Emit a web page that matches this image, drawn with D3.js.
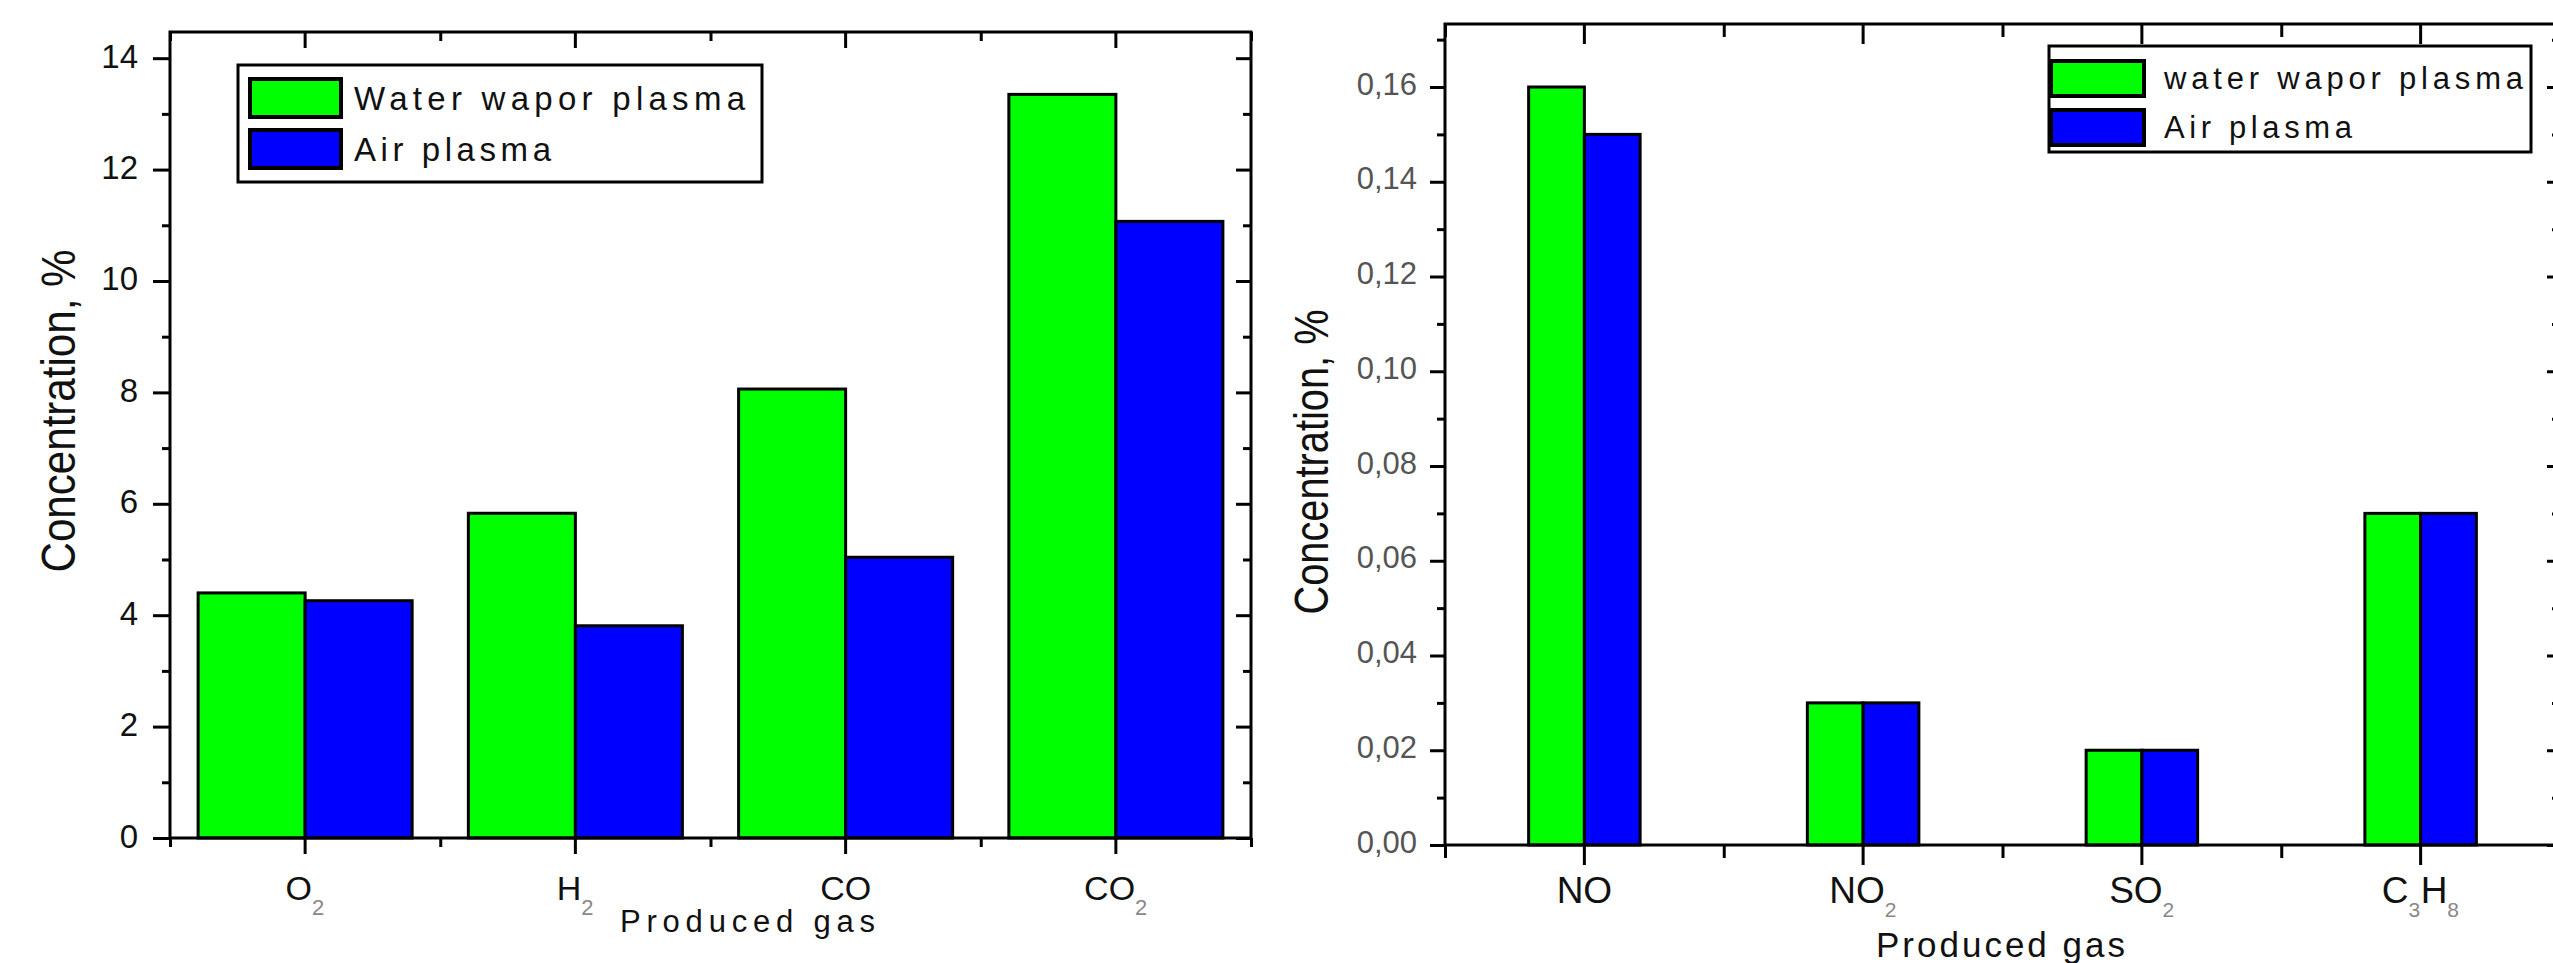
<!DOCTYPE html>
<html>
<head>
<meta charset="utf-8">
<script src="https://cdn.jsdelivr.net/npm/d3@7"></script>
<style>
  body { margin: 0; background: #fff; }
  svg { display: block; font-family: "Liberation Sans", Arial, sans-serif; }
</style>
</head>
<body>
<svg width="2553" height="963"></svg>
<script>
// data
const gasesLeft = ['O2', 'H2', 'CO', 'CO2'];
const waterLeft = [4.4, 5.83, 8.06, 13.35];
const airLeft = [4.26, 3.81, 5.04, 11.07];
const ticksLeft = [0, 2, 4, 6, 8, 10, 12, 14];
const minorLeft = [1, 3, 5, 7, 9, 11, 13];

const gasesRight = ['NO', 'NO2', 'SO2', 'C3H8'];
const waterRight = [0.16, 0.03, 0.02, 0.07];
const airRight = [0.15, 0.03, 0.02, 0.07];
const ticksRight = [0, 0.02, 0.04, 0.06, 0.08, 0.10, 0.12, 0.14, 0.16];
const minorRight = [0.01, 0.03, 0.05, 0.07, 0.09, 0.11, 0.13, 0.15, 0.17];

const seriesKeys = ['water', 'air'];
const legendLeft = ['Water wapor plasma', 'Air plasma'];
const legendRight = ['water wapor plasma', 'Air plasma'];
const titleX = 'Produced gas';
const titleY = 'Concentration, %';

const svg = d3.select('svg');

const color = d3.scaleOrdinal()
  .domain(seriesKeys)
  .range(['#00ff00', '#0000ff']);

// decimal comma, like the original
const euro = d3.formatLocale({ decimal: ',', thousands: '.', grouping: [3], currency: ['', ''] });

// splits "C3H8" into [['C','3'],['H','8']]
const chemParts = s => Array.from(s.matchAll(/([A-Z][a-z]?)(\d*)/g)).map(m => [m[1], m[2]]);

const render = (selection, o) => {
  const g = selection.append('g');

  const x = d3.scaleBand().domain(o.gases).range([o.left, o.right]);
  const xEdge = d3.scaleLinear().domain([0, o.gases.length]).range([o.left, o.right]);
  const y = d3.scaleLinear().domain([0, o.yMax]).range([o.bottom, o.top]);
  const xs = d3.scaleBand()
    .domain(seriesKeys)
    .range([x.bandwidth() * o.inner, x.bandwidth() * (1 - o.inner)]);

  const rows = o.gases.map((gas, i) => ({
    gas,
    values: [{ key: 'water', v: o.water[i] }, { key: 'air', v: o.air[i] }]
  }));

  // bars
  g.selectAll('g.grp')
    .data(rows)
    .join('g')
      .attr('class', 'grp')
      .attr('transform', d => `translate(${x(d.gas)},0)`)
    .selectAll('rect')
    .data(d => d.values)
    .join('rect')
      .attr('x', d => xs(d.key))
      .attr('width', xs.bandwidth())
      .attr('y', d => y(d.v))
      .attr('height', d => y(0) - y(d.v))
      .attr('fill', d => color(d.key))
      .attr('stroke', '#000')
      .attr('stroke-width', 3);

  const tidy = (a) => a.call(s => s.select('.domain').remove())
    .call(s => s.selectAll('.tick line').attr('stroke', '#000').attr('stroke-width', 3));

  // left axis, outward
  g.append('g')
    .attr('transform', `translate(${o.left},0)`)
    .call(d3.axisLeft(y).tickValues(o.ticks).tickFormat(o.fmt)
      .tickSize(o.yMaj).tickSizeOuter(0).tickPadding(o.yPad))
    .call(tidy)
    .call(s => s.attr('font-size', null).attr('font-family', null))
    .call(s => s.selectAll('.tick text')
      .attr('dy', null).attr('y', o.yLabelDy)
      .attr('font-size', o.yLabelSize).attr('fill', o.yLabelFill));
  g.append('g')
    .attr('transform', `translate(${o.left},0)`)
    .call(d3.axisLeft(y).tickValues(o.minor).tickFormat('').tickSize(o.yMin).tickSizeOuter(0))
    .call(tidy);

  // right axis, inward
  g.append('g')
    .attr('transform', `translate(${o.right},0)`)
    .call(d3.axisLeft(y).tickValues(o.ticks).tickFormat('').tickSize(o.yMaj - 2).tickSizeOuter(0))
    .call(tidy);
  g.append('g')
    .attr('transform', `translate(${o.right},0)`)
    .call(d3.axisLeft(y).tickValues(o.minor).tickFormat('').tickSize(o.yMin).tickSizeOuter(0))
    .call(tidy);

  // top axis, inward
  g.append('g')
    .attr('transform', `translate(0,${o.top})`)
    .call(d3.axisBottom(x).tickFormat('').tickSize(o.xMaj).tickSizeOuter(0))
    .call(tidy);
  g.append('g')
    .attr('transform', `translate(0,${o.top})`)
    .call(d3.axisBottom(xEdge).ticks(o.gases.length).tickFormat('').tickSize(o.xMin).tickSizeOuter(0))
    .call(tidy);

  // bottom axis, outward, with chemical labels
  const bottom = g.append('g')
    .attr('transform', `translate(0,${o.bottom})`)
    .call(d3.axisBottom(x).tickFormat('').tickSize(o.xMaj).tickSizeOuter(0))
    .call(tidy);
  bottom.selectAll('.tick text').remove();
  bottom.selectAll('.tick').each(function (d) {
    const t = d3.select(this).append('text')
      .attr('y', o.xLabelDy)
      .attr('text-anchor', 'middle')
      .attr('font-size', o.xLabelSize)
      .attr('fill', '#111');
    chemParts(d).forEach(([el, n]) => {
      t.append('tspan').text(el);
      if (n) {
        t.append('tspan').text(n)
          .attr('dy', o.subDy)
          .attr('font-size', o.subSize)
          .attr('fill', '#888');
        t.append('tspan').text('\u200A').attr('dy', -o.subDy).attr('font-size', 4);
      }
    });
  });
  g.append('g')
    .attr('transform', `translate(0,${o.bottom})`)
    .call(d3.axisBottom(xEdge).ticks(o.gases.length).tickFormat('').tickSize(o.xMin).tickSizeOuter(0))
    .call(tidy);

  // frame
  g.append('rect')
    .attr('x', o.left).attr('y', o.top)
    .attr('width', o.right - o.left).attr('height', o.bottom - o.top)
    .attr('fill', 'none').attr('stroke', '#000').attr('stroke-width', 3);

  // axis titles
  g.append('text')
    .attr('transform', `translate(${o.yTitleX},${o.yTitleY}) rotate(-90)`)
    .attr('text-anchor', 'middle')
    .attr('font-size', 48)
    .attr('textLength', o.yTitleLen)
    .attr('lengthAdjust', 'spacingAndGlyphs')
    .attr('fill', '#111')
    .text(titleY);
  g.append('text')
    .attr('x', o.xTitleX).attr('y', o.xTitleY)
    .attr('font-size', o.xTitleSize)
    .attr('textLength', o.xTitleLen)
    .attr('lengthAdjust', 'spacing')
    .attr('fill', '#111')
    .text(titleX);

  // legend
  const lg = g.append('g').attr('transform', `translate(${o.lx},${o.ly})`);
  lg.append('rect')
    .attr('width', o.lw).attr('height', o.lh)
    .attr('fill', '#fff').attr('stroke', '#000').attr('stroke-width', 3);
  const item = lg.selectAll('g.item')
    .data(seriesKeys)
    .join('g')
      .attr('class', 'item')
      .attr('transform', (d, i) => `translate(${o.sx},${o.sy + i * o.step})`);
  item.append('rect')
    .attr('width', o.sw).attr('height', o.sh)
    .attr('fill', d => color(d)).attr('stroke', '#000').attr('stroke-width', 4);
  item.append('text')
    .attr('x', o.tx).attr('y', o.ty)
    .attr('font-size', o.lSize)
    .attr('textLength', (d, i) => o.lLen[i])
    .attr('lengthAdjust', 'spacing')
    .attr('fill', '#111')
    .text((d, i) => o.legend[i]);
};

render(svg, {
  gases: gasesLeft, water: waterLeft, air: airLeft,
  ticks: ticksLeft, minor: minorLeft, fmt: d3.format('d'),
  left: 170, right: 1251, top: 32, bottom: 838, yMax: 14.47, inner: 0.104,
  yMaj: 17, yMin: 8, yPad: 15, yLabelDy: 9, yLabelSize: 33, yLabelFill: '#111',
  xMaj: 16, xMin: 9, xLabelDy: 62, xLabelSize: 34, subDy: 15, subSize: 22,
  yTitleX: 75, yTitleY: 411, yTitleLen: 323,
  xTitleX: 620, xTitleY: 932, xTitleSize: 31, xTitleLen: 255,
  legend: legendLeft, lx: 238, ly: 65, lw: 524, lh: 117,
  sx: 12, sy: 14, step: 51, sw: 91, sh: 38, tx: 104, ty: 31, lSize: 33, lLen: [391, 197]
});

render(svg, {
  gases: gasesRight, water: waterRight, air: airRight,
  ticks: ticksRight, minor: minorRight, fmt: euro.format('.2f'),
  left: 1445, right: 2560, top: 24, bottom: 845, yMax: 0.1733, inner: 0.3,
  yMaj: 15, yMin: 8, yPad: 13, yLabelDy: 7, yLabelSize: 31, yLabelFill: '#555',
  xMaj: 20, xMin: 13, xLabelDy: 58, xLabelSize: 37, subDy: 14, subSize: 21,
  yTitleX: 1328, yTitleY: 462, yTitleLen: 305,
  xTitleX: 1876, xTitleY: 957, xTitleSize: 35, xTitleLen: 249,
  legend: legendRight, lx: 2049, ly: 46, lw: 482, lh: 106,
  sx: 2, sy: 15, step: 49, sw: 93, sh: 35, tx: 113, ty: 28, lSize: 31, lLen: [359, 188]
});
</script>
</body>
</html>
